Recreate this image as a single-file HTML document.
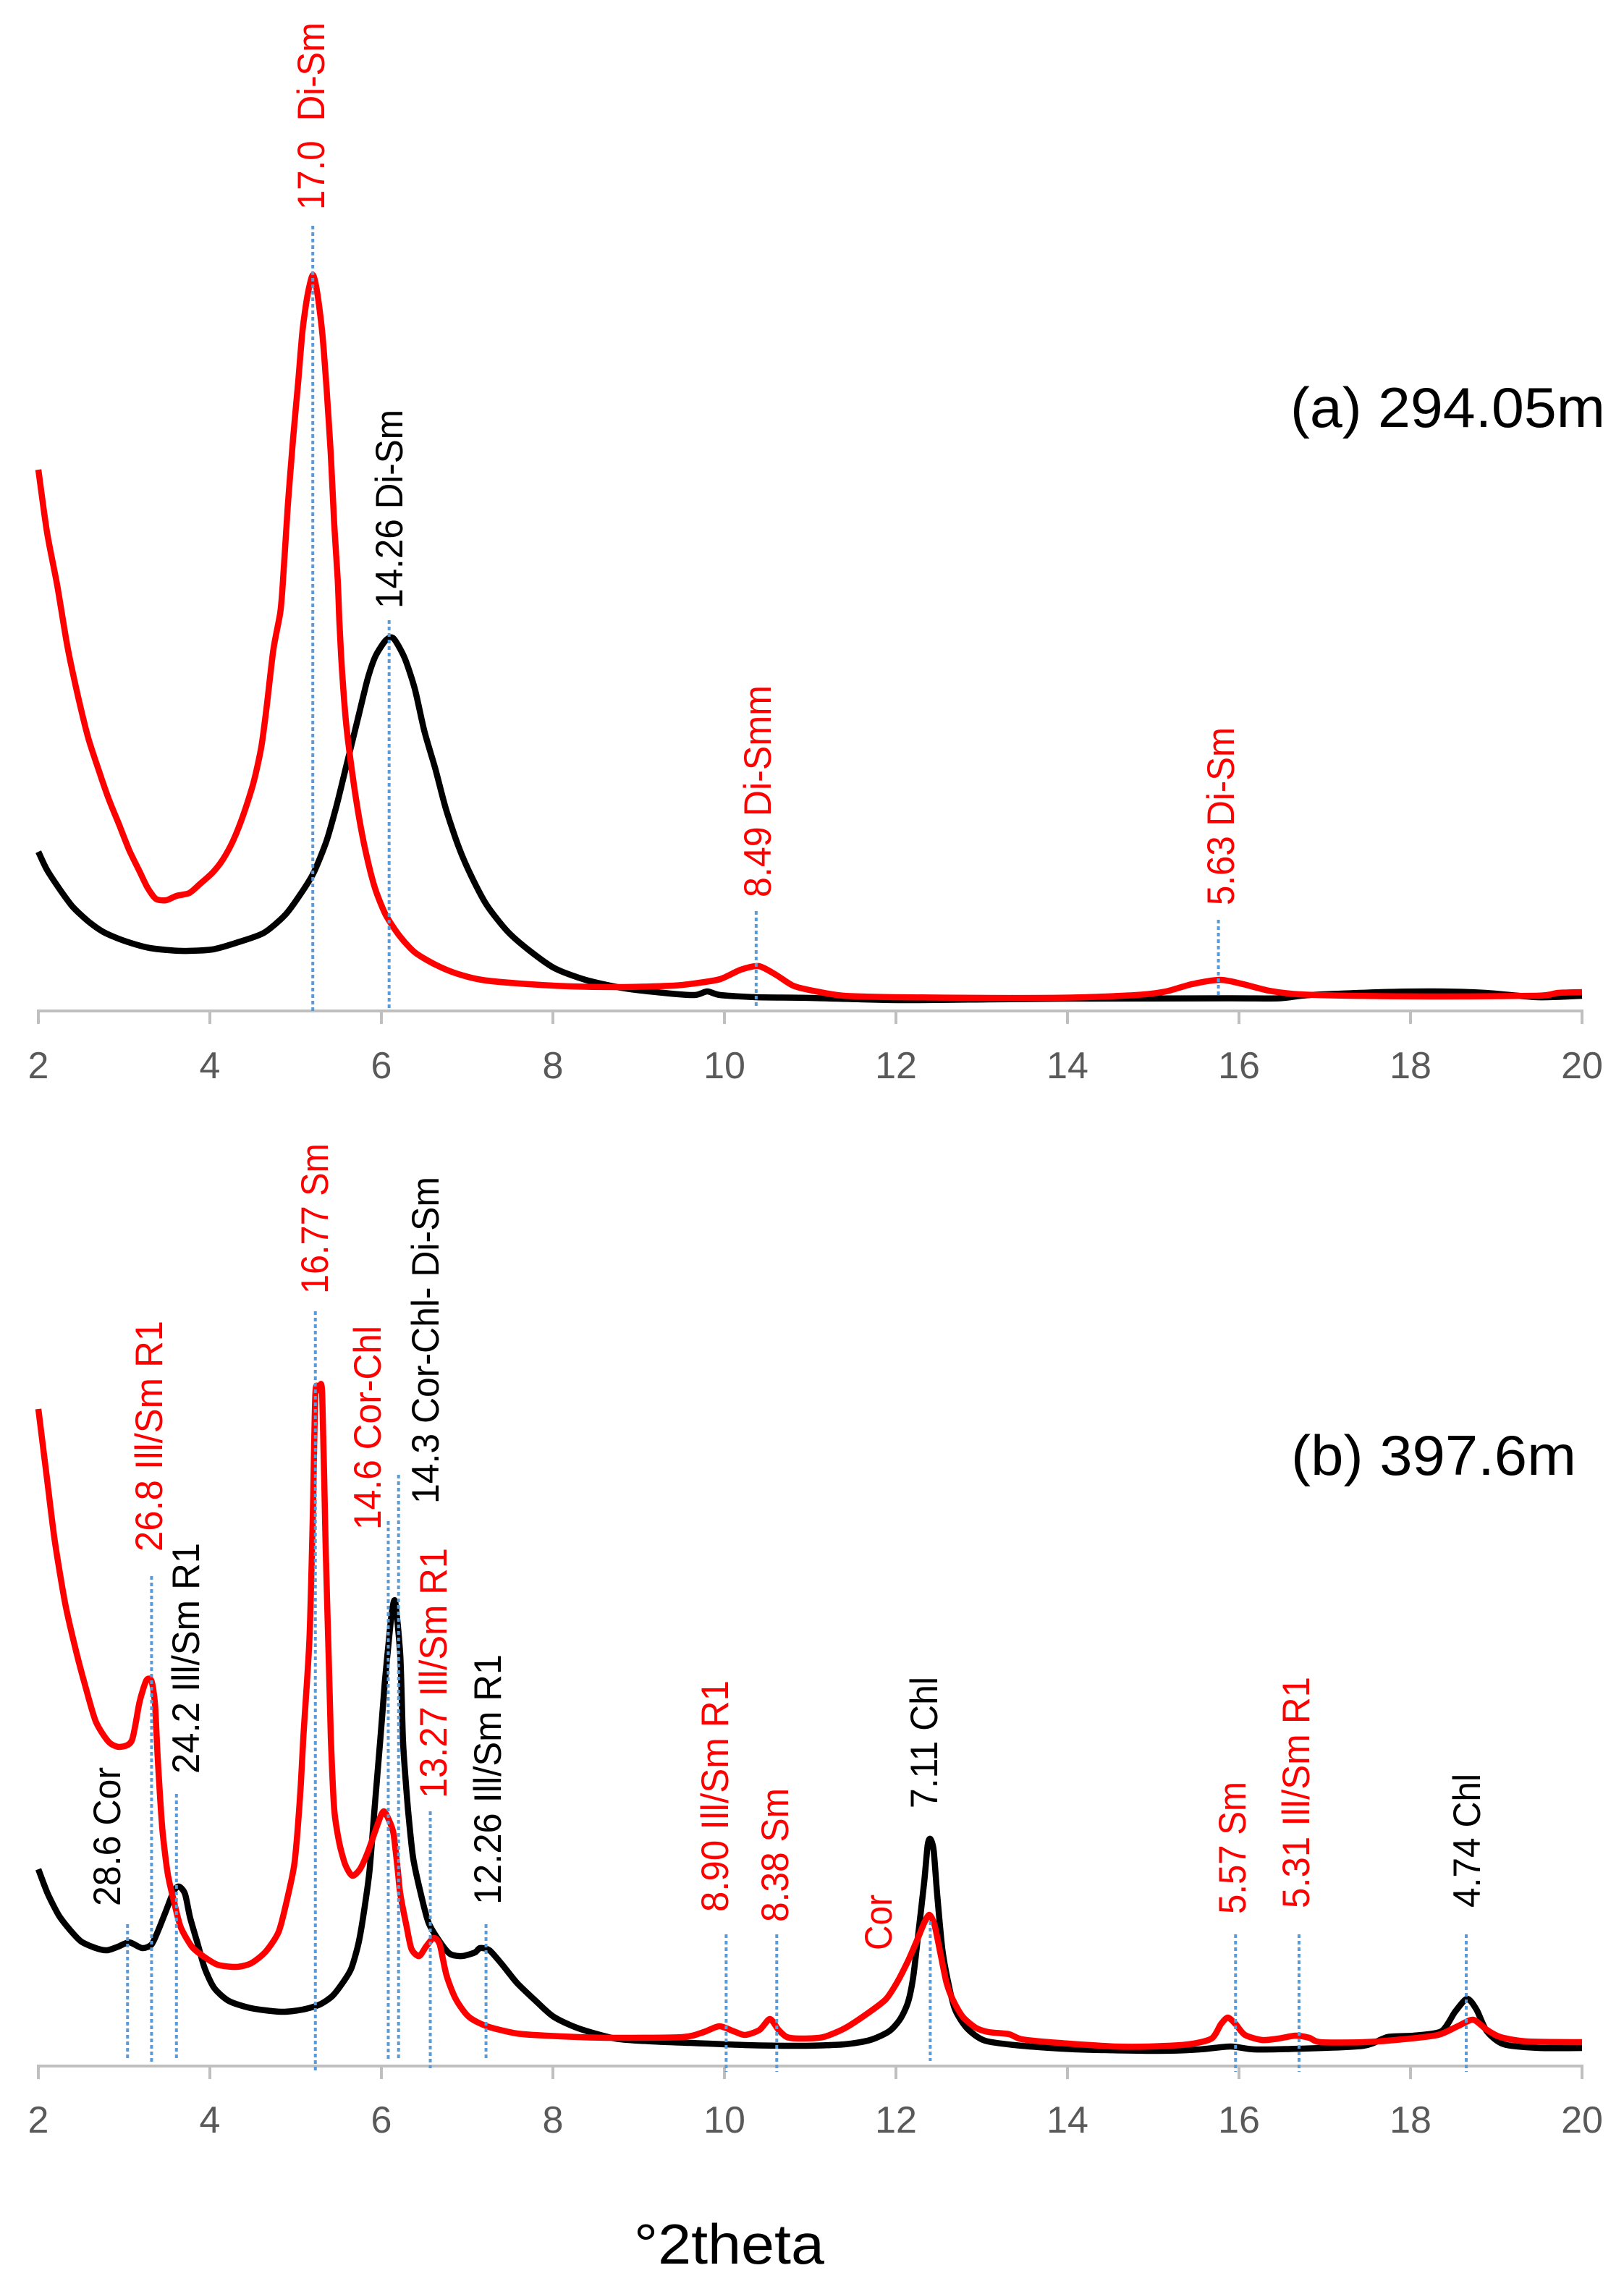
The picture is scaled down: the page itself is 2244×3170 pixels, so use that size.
<!DOCTYPE html>
<html lang="en">
<head>
<meta charset="utf-8">
<title>XRD diffractograms</title>
<style>
html,body{margin:0;padding:0;background:#fff;}
svg{display:block;}
text{font-family:"Liberation Sans",sans-serif;}
.lab{font-size:53px;}
.r{fill:#ff0000;}
.k{fill:#000000;}
.ttl{font-size:78px;fill:#000;}
</style>
</head>
<body>
<svg id="chart" xmlns="http://www.w3.org/2000/svg" width="2244" height="3170" viewBox="0 0 2244 3170">
  <rect x="0" y="0" width="2244" height="3170" fill="#ffffff"/>
  <g id="marks"></g>

  <g>
    <text class="lab r" transform="translate(448,290) rotate(-90)" textLength="259" lengthAdjust="spacingAndGlyphs" xml:space="preserve">17.0  Di-Sm</text>
    <text class="lab k" transform="translate(556,841) rotate(-90)" textLength="275" lengthAdjust="spacingAndGlyphs">14.26 Di-Sm</text>
    <text class="lab r" transform="translate(1065,1240) rotate(-90)" textLength="293" lengthAdjust="spacingAndGlyphs">8.49 Di-Smm</text>
    <text class="lab r" transform="translate(1705,1251) rotate(-90)" textLength="246" lengthAdjust="spacingAndGlyphs">5.63 Di-Sm</text>
    <text class="ttl" x="1783" y="590" textLength="435" lengthAdjust="spacingAndGlyphs">(a) 294.05m</text>
  </g>

  <g>
    <text class="lab k" transform="translate(166,2634) rotate(-90)" textLength="192" lengthAdjust="spacingAndGlyphs">28.6 Cor</text>
    <text class="lab r" transform="translate(224,2144) rotate(-90)" textLength="319" lengthAdjust="spacingAndGlyphs">26.8 Ill/Sm R1</text>
    <text class="lab k" transform="translate(275,2451) rotate(-90)" textLength="319" lengthAdjust="spacingAndGlyphs">24.2 Ill/Sm R1</text>
    <text class="lab r" transform="translate(453,1788) rotate(-90)" textLength="208" lengthAdjust="spacingAndGlyphs">16.77 Sm</text>
    <text class="lab r" transform="translate(526,2114) rotate(-90)" textLength="282" lengthAdjust="spacingAndGlyphs">14.6 Cor-Chl</text>
    <text class="lab k" transform="translate(606,2078) rotate(-90)" textLength="452" lengthAdjust="spacingAndGlyphs">14.3 Cor-Chl- Di-Sm</text>
    <text class="lab r" transform="translate(617,2485) rotate(-90)" textLength="346" lengthAdjust="spacingAndGlyphs">13.27 Ill/Sm R1</text>
    <text class="lab k" transform="translate(692,2632) rotate(-90)" textLength="346" lengthAdjust="spacingAndGlyphs">12.26 Ill/Sm R1</text>
    <text class="lab r" transform="translate(1006,2642) rotate(-90)" textLength="320" lengthAdjust="spacingAndGlyphs">8.90 Ill/Sm R1</text>
    <text class="lab r" transform="translate(1089,2656) rotate(-90)" textLength="185" lengthAdjust="spacingAndGlyphs">8.38 Sm</text>
    <text class="lab r" transform="translate(1232,2695) rotate(-90)" textLength="77" lengthAdjust="spacingAndGlyphs">Cor</text>
    <text class="lab k" transform="translate(1295,2499) rotate(-90)" textLength="182" lengthAdjust="spacingAndGlyphs">7.11 Chl</text>
    <text class="lab r" transform="translate(1721,2645) rotate(-90)" textLength="183" lengthAdjust="spacingAndGlyphs">5.57 Sm</text>
    <text class="lab r" transform="translate(1809,2637) rotate(-90)" textLength="320" lengthAdjust="spacingAndGlyphs">5.31 Ill/Sm R1</text>
    <text class="lab k" transform="translate(2045,2636) rotate(-90)" textLength="185" lengthAdjust="spacingAndGlyphs">4.74 Chl</text>
    <text class="ttl" x="1784" y="2038" textLength="394" lengthAdjust="spacingAndGlyphs">(b) 397.6m</text>
  </g>

  <text class="ttl" x="876" y="3128" textLength="263" lengthAdjust="spacingAndGlyphs">°2theta</text>
</svg>
<script>
/* Shared x axis values */
const xTicks = [2,4,6,8,10,12,14,16,18,20];

/* Panel (a) black trace */
const aBlackX = [2,2.1,2.25,2.4,2.58,2.76,3,3.3,3.67,4.03,4.33,4.63,4.88,5.06,5.21,5.36,5.48,5.6,5.72,5.84,5.93,6.05,6.14,6.27,6.39,6.5,6.63,6.75,6.9,7.05,7.23,7.47,7.72,8.02,8.38,8.8,9.29,9.65,9.8,9.95,10.37,11,12,13.08,14.05,15.86,16.47,16.82,17.66,18.27,18.87,19.48,20];
const aBlackV = [22,19.5,16.8,14.4,12.4,10.9,9.7,8.7,8.3,8.5,9.5,10.8,13.3,16.2,19.1,23.5,28.5,34.3,40.1,45.9,49,51.2,51.5,48.8,44.5,38.7,33.4,28,22.7,18.6,14.6,11,8.4,5.9,4.3,3.2,2.5,2.2,2.7,2.2,1.9,1.8,1.5,1.6,1.7,1.75,1.75,2.2,2.6,2.7,2.5,1.9,2.1];

/* Panel (a) red trace */
const aRedX = [2,2.1,2.22,2.34,2.46,2.58,2.7,2.82,2.94,3.06,3.18,3.27,3.37,3.49,3.61,3.76,3.88,4.03,4.15,4.27,4.39,4.51,4.6,4.66,4.74,4.82,4.85,4.91,4.97,5.03,5.08,5.14,5.2,5.25,5.31,5.36,5.41,5.45,5.49,5.51,5.54,5.59,5.66,5.74,5.83,5.93,6.05,6.21,6.39,6.63,6.87,7.17,7.6,8.2,8.8,9.41,9.65,9.95,10.19,10.4,10.6,10.8,11.03,11.39,12,13.08,14.05,14.8,15.15,15.45,15.78,16.05,16.35,16.7,17.3,18.27,19.48,19.72,20];
const aRedV = [74.8,66.2,58.8,50.3,43.6,37.8,33.4,29.3,25.8,22.2,19.3,17.1,15.5,15.3,15.9,16.3,17.5,19.1,20.9,23.5,27.1,31.6,36.5,41.8,49.9,55,59,70,79,87,94,99,101.7,99.4,93.8,86.1,76.9,67.3,59.7,53.9,47.2,39.6,32.9,26.7,21.3,16.8,13.3,10.4,8.1,6.4,5.2,4.3,3.8,3.4,3.3,3.5,3.8,4.4,5.7,6.2,5,3.5,2.8,2.1,1.9,1.8,1.85,2.2,2.7,3.7,4.3,3.7,2.8,2.3,2.1,2,2.1,2.5,2.6];

/* Panel (a) peak markers */
const aMarkerX = [5.2,6.09,10.37,15.76];
const aMarkerTop = [108.5,54,13.8,12.6];
const aMarkerBottom = [-0.1,0.2,0.4,1.9];

/* Panel (b) black trace */
const bBlackX = [2,2.11,2.24,2.37,2.5,2.67,2.8,2.93,3.06,3.21,3.32,3.4,3.49,3.58,3.64,3.71,3.77,3.86,3.94,4.05,4.22,4.48,4.83,5.08,5.28,5.43,5.56,5.65,5.73,5.79,5.86,5.92,5.99,6.04,6.08,6.12,6.16,6.22,6.25,6.27,6.31,6.37,6.46,6.55,6.68,6.8,6.94,7.09,7.15,7.26,7.41,7.58,7.8,8.01,8.3,8.73,9.17,9.6,10.24,10.89,11.4,11.7,11.92,12.05,12.14,12.2,12.26,12.33,12.37,12.4,12.44,12.48,12.54,12.61,12.69,12.83,13.04,13.47,14.12,15.06,15.54,15.9,16.18,16.72,17.45,17.73,18.04,18.36,18.52,18.66,18.77,18.89,19.09,19.5,20];
const bBlackV = [27.2,23.8,20.8,18.8,17.2,16.3,16,16.5,17.1,16.3,16.8,18.8,21.5,24.2,24.8,23.8,20.5,16.8,13.5,10.8,9,8,7.5,7.8,8.5,9.7,11.7,13.5,16.8,20.8,26.8,35.5,45.5,53,58,62.5,64.2,56.7,45.5,41.5,35.5,28.8,23.8,19.8,17.2,15.5,15.2,15.7,16.3,16,14,11.5,9,6.8,5.2,3.8,3.4,3.2,2.9,2.8,3,3.6,4.8,6.5,8.8,12.2,18.2,25.5,30.5,31.4,29.8,23.8,16.2,11.5,7.8,5.2,3.5,2.8,2.3,2.1,2.3,2.7,2.3,2.4,2.8,4,4.2,4.8,7.5,9.3,7.8,4.8,3,2.5,2.5];

/* Panel (b) red trace */
const bRedX = [2,2.1,2.19,2.31,2.43,2.55,2.67,2.82,2.95,3.09,3.18,3.26,3.32,3.36,3.39,3.42,3.45,3.51,3.58,3.66,3.79,3.92,4.09,4.31,4.48,4.65,4.8,4.89,4.98,5.02,5.06,5.09,5.16,5.2,5.23,5.27,5.31,5.35,5.39,5.41,5.45,5.51,5.58,5.66,5.75,5.84,5.92,5.99,6.03,6.08,6.14,6.19,6.22,6.29,6.35,6.44,6.52,6.61,6.68,6.76,6.87,7.02,7.23,7.58,7.92,8.3,8.73,9.51,9.76,9.94,10.11,10.24,10.41,10.53,10.63,10.73,10.89,11.15,11.4,11.66,11.88,12.01,12.14,12.25,12.33,12.39,12.45,12.52,12.59,12.67,12.78,12.93,13.08,13.32,13.47,13.9,14.55,14.96,15.41,15.68,15.79,15.87,15.96,16.07,16.27,16.46,16.66,16.82,16.95,17.45,17.91,18.32,18.55,18.73,18.89,19.05,19.36,20];
const bRedV = [90.8,81.2,72.7,64.1,57.8,52.4,47.6,44.8,44.1,45,50.3,53.3,53.2,50,43,37,32.2,26.5,22.8,19.2,16.5,15.2,14,13.7,14.2,15.8,18.5,22.5,27.5,32.2,38.8,45.5,58.8,75.9,92.9,93.4,92.9,71.6,54.6,45.5,35.5,30.8,27.8,26.3,27.2,29.5,32.2,34.5,35.2,34.2,32.2,27.2,23.8,19.5,16.2,15.2,16.5,17.7,16.8,12.5,9.2,6.8,5.5,4.5,4.2,4,3.9,4,4.7,5.5,4.8,4.3,5,6.5,5,4,3.8,4,5.2,7.2,9.2,11.5,14.5,17.5,19.8,20.9,19.5,15.5,11.5,9,6.8,5.3,4.7,4.4,3.7,3.2,2.7,2.7,3,3.8,5.8,6.7,5.8,4.3,3.6,3.8,4.2,3.9,3.3,3.3,3.7,4.3,5.5,6.4,5,4,3.4,3.3];

/* Panel (b) peak markers */
const bMarkerX = [3.04,3.32,3.61,5.23,6.08,6.2,6.57,7.22,10.02,10.61,12.4,15.96,16.7,18.65];
const bMarkerTop = [19.6,67.7,37.6,104.3,75.3,81.7,35.2,19.6,18.2,18.2,20,18.2,18.2,18.2];
const bMarkerBottom = [0.7,0.4,1,-0.8,0.8,1,-0.3,0.7,-0.8,-0.8,0.7,-0.8,-0.8,-0.8];

const SVGNS = 'http://www.w3.org/2000/svg';
const marks = document.getElementById('marks');
const xScale = function (x) { return 53 + (x - 2) * (2186 - 53) / 18; };
const yScaleA = function (v) { return 1397 - v * 10; };
const yScaleB = function (v) { return 2855 - v * 10; };

function make(tag, attrs) {
  const n = document.createElementNS(SVGNS, tag);
  Object.keys(attrs).forEach(function (k) { n.setAttribute(k, attrs[k]); });
  marks.appendChild(n);
  return n;
}

function drawAxis(panel, baseY, labelBaseline) {
  const line = make('line', {x1: xScale(2) - 2, x2: xScale(20) + 2, y1: baseY, y2: baseY, stroke: '#bfbfbf', 'stroke-width': 4});
  
  
  xTicks.forEach(function (t) {
    const tick = make('line', {x1: xScale(t), x2: xScale(t), y1: baseY, y2: baseY + 18, stroke: '#bfbfbf', 'stroke-width': 4});
    
    
    const lab = make('text', {x: xScale(t), y: labelBaseline, 'text-anchor': 'middle', 'font-size': 52, fill: '#595959'});
    lab.textContent = String(t);
    
    
  });
}

function drawMarkers(panel, xs, tops, bottoms, yScale) {
  xs.forEach(function (x, i) {
    const m = make('line', {x1: xScale(x), x2: xScale(x), y1: yScale(tops[i]), y2: yScale(bottoms[i]), stroke: '#5b9bd5', 'stroke-width': 4, 'stroke-dasharray': '5 4'});
    
    
  });
}

function drawTrace(name, xs, vs, yScale, color) {
  const px = xs.map(xScale);
  const py = vs.map(yScale);
  let d = 'M' + px[0].toFixed(1) + ' ' + py[0].toFixed(1);
  for (let i = 0; i < px.length - 1; i++) {
    const a = Math.max(i - 1, 0);
    const b = Math.min(i + 2, px.length - 1);
    const c1x = px[i] + (px[i + 1] - px[a]) / 8;
    const c1y = py[i] + (py[i + 1] - py[a]) / 8;
    const c2x = px[i + 1] - (px[b] - px[i]) / 8;
    const c2y = py[i + 1] - (py[b] - py[i]) / 8;
    d += 'C' + c1x.toFixed(1) + ' ' + c1y.toFixed(1) + ' ' + c2x.toFixed(1) + ' ' + c2y.toFixed(1) + ' ' + px[i + 1].toFixed(1) + ' ' + py[i + 1].toFixed(1);
  }
  const p = make('path', {d: d, fill: 'none', stroke: color, 'stroke-width': 8.5, 'stroke-linejoin': 'round', 'stroke-linecap': 'butt'});
  
  
}

drawAxis('a', 1397, 1490);
drawAxis('b', 2855, 2947);
drawTrace('trace-a-black', aBlackX, aBlackV, yScaleA, '#000000');
drawTrace('trace-b-black', bBlackX, bBlackV, yScaleB, '#000000');
drawTrace('trace-a-red', aRedX, aRedV, yScaleA, '#ff0000');
drawTrace('trace-b-red', bRedX, bRedV, yScaleB, '#ff0000');
drawMarkers('a', aMarkerX, aMarkerTop, aMarkerBottom, yScaleA);
drawMarkers('b', bMarkerX, bMarkerTop, bMarkerBottom, yScaleB);
</script>
</body>
</html>
